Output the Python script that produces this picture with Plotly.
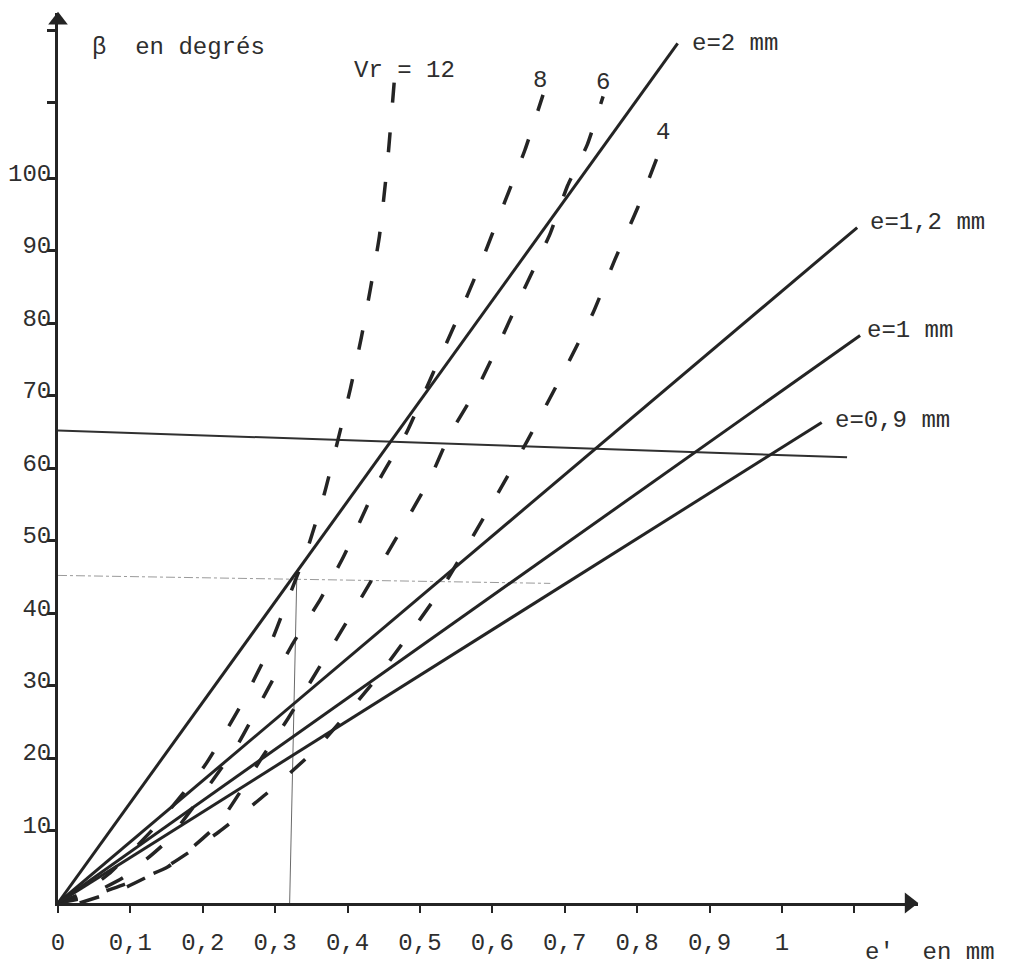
import plotly.graph_objects as go

# ---------------- data ----------------
# solid lines e = const, straight from the origin: end points (e' mm, beta deg)
e_labels = ["e=2 mm", "e=1,2 mm", "e=1 mm", "e=0,9 mm"]
e_end_x = [0.856, 1.104, 1.108, 1.055]
e_end_y = [118.6, 93.2, 78.3, 66.3]
e_label_x = [0.873, 1.119, 1.115, 1.070]
e_label_y = [118.6, 93.9, 79.0, 66.6]

# dashed curves, Vr = 12, 8, 6, 4
vr_labels = ["Vr = 12", "8", "6", "4"]
vr_label_x = [0.478, 0.666, 0.753, 0.836]
vr_label_y = [114.9, 113.5, 113.2, 106.3]

vr12_x = [0.0, 0.03, 0.07, 0.137, 0.203, 0.251, 0.286, 0.318, 0.345, 0.368, 0.387, 0.404, 0.419, 0.432, 0.444, 0.455, 0.465]
vr12_y = [0.0, 1.2, 4.0, 10.8, 19.0, 27.0, 33.9, 42.0, 49.0, 56.5, 64.0, 71.0, 78.0, 85.0, 92.0, 102.0, 114.0]

vr8_x = [0.0, 0.04, 0.09, 0.15, 0.21, 0.249, 0.287, 0.325, 0.363, 0.394, 0.417, 0.445, 0.482, 0.518, 0.552, 0.583, 0.617, 0.645, 0.670]
vr8_y = [0.0, 1.0, 3.5, 8.5, 16.4, 22.0, 29.0, 35.9, 42.0, 47.7, 52.6, 58.6, 65.0, 73.1, 80.7, 88.0, 96.7, 103.9, 111.5]

vr6_x = [0.0, 0.04, 0.09, 0.152, 0.222, 0.282, 0.318, 0.373, 0.420, 0.475, 0.514, 0.541, 0.580, 0.613, 0.642, 0.680, 0.704, 0.731, 0.753]
vr6_y = [0.0, 0.8, 2.5, 5.0, 11.0, 20.1, 25.5, 34.5, 42.3, 51.7, 58.6, 64.6, 71.2, 78.0, 84.3, 92.4, 99.0, 104.6, 111.3]

vr4_x = [0.03, 0.09, 0.15, 0.222, 0.287, 0.358, 0.44, 0.53, 0.608, 0.649, 0.696, 0.739, 0.769, 0.801, 0.832]
vr4_y = [0.0, 2.0, 5.0, 9.8, 15.0, 21.4, 31.0, 43.4, 56.6, 63.9, 72.8, 81.4, 88.7, 96.0, 104.0]

# construction lines
h65_x = [0.0, 1.09]
h65_y = [65.2, 61.5]
h45_x = [0.0, 0.68]
h45_y = [45.2, 44.1]
v032_x = [0.32, 0.33]
v032_y = [0.0, 45.5]

# axes ticks
x_tickvals = [0, 0.1, 0.2, 0.3, 0.4, 0.5, 0.6, 0.7, 0.8, 0.9, 1.0, 1.1]
x_ticktext = ["0", "0,1", "0,2", "0,3", "0,4", "0,5", "0,6", "0,7", "0,8", "0,9", "1", ""]
y_tickvals = [10, 20, 30, 40, 50, 60, 70, 80, 90, 100, 110.5, 120.4]
y_ticktext = ["10", "20", "30", "40", "50", "60", "70", "80", "90", "100", "", ""]

X_RANGE = [0, 1.188]
Y_RANGE = [0, 122.8]

INK = "#242424"
TEXT = "#2e2e2e"
FONT = "Liberation Mono, Courier New, monospace"

fig = go.Figure()

# construction lines
fig.add_trace(go.Scatter(x=h65_x, y=h65_y, mode="lines",
                         line=dict(color="#303030", width=2), hoverinfo="skip"))
fig.add_trace(go.Scatter(x=h45_x, y=h45_y, mode="lines",
                         line=dict(color="#9a9a9a", width=1, dash="dashdot"), hoverinfo="skip"))
fig.add_trace(go.Scatter(x=v032_x, y=v032_y, mode="lines",
                         line=dict(color="#6a6a6a", width=1), hoverinfo="skip"))

# dashed Vr curves
for xs, ys in [(vr12_x, vr12_y), (vr8_x, vr8_y), (vr6_x, vr6_y), (vr4_x, vr4_y)]:
    fig.add_trace(go.Scatter(x=xs, y=ys, mode="lines",
                             line=dict(color=INK, width=3.5, dash="20px,30px",
                                       shape="spline", smoothing=0.5),
                             hoverinfo="skip"))

# solid e lines
for ex, ey in zip(e_end_x, e_end_y):
    fig.add_trace(go.Scatter(x=[0, ex], y=[0, ey], mode="lines",
                             line=dict(color=INK, width=3), hoverinfo="skip"))

# axis arrow heads
fig.add_trace(go.Scatter(x=[X_RANGE[0]], y=[Y_RANGE[1] - 1.0], mode="markers",
                         marker=dict(symbol="triangle-up", size=17, color=INK),
                         cliponaxis=False, hoverinfo="skip"))
fig.add_trace(go.Scatter(x=[X_RANGE[1] - 0.012], y=[Y_RANGE[0]], mode="markers",
                         marker=dict(symbol="triangle-right", size=18, color=INK),
                         cliponaxis=False, hoverinfo="skip"))

annotations = []
for t, x, y in zip(e_labels, e_label_x, e_label_y):
    annotations.append(dict(x=x, y=y, xref="x", yref="y", text=t, showarrow=False,
                            xanchor="left", yanchor="middle",
                            font=dict(family=FONT, size=24, color=TEXT)))
for t, x, y in zip(vr_labels, vr_label_x, vr_label_y):
    annotations.append(dict(x=x, y=y, xref="x", yref="y", text=t, showarrow=False,
                            xanchor="center", yanchor="middle",
                            font=dict(family=FONT, size=24, color=TEXT)))
annotations.append(dict(x=0.044, y=118.0, xref="x", yref="y", text="β  en degrés",
                        showarrow=False, xanchor="left", yanchor="middle",
                        font=dict(family=FONT, size=24, color=TEXT)))
annotations.append(dict(x=1.112, y=-0.056, xref="x", yref="paper", text="e'  en mm",
                        showarrow=False, xanchor="left", yanchor="middle",
                        font=dict(family=FONT, size=24, color=TEXT)))

# the page body adds an 8px offset, so the figure is 8px smaller than the window
fig.update_layout(
    width=1010, height=963,
    margin=dict(l=50, r=100, t=5, b=68, autoexpand=False),
    paper_bgcolor="white", plot_bgcolor="white",
    showlegend=False,
    annotations=annotations,
    xaxis=dict(range=X_RANGE, showgrid=False, zeroline=False, automargin=False,
               showline=True, linecolor=INK, linewidth=3,
               ticks="outside", ticklen=7, tickwidth=2, tickcolor=INK,
               tickvals=x_tickvals, ticktext=x_ticktext,
               ticklabelstandoff=8,
               tickfont=dict(family=FONT, size=24, color=TEXT)),
    yaxis=dict(range=Y_RANGE, showgrid=False, zeroline=False, automargin=False,
               showline=True, linecolor=INK, linewidth=3,
               ticks="outside", ticklen=8, tickwidth=3, tickcolor=INK,
               tickvals=y_tickvals, ticktext=y_ticktext,
               ticklabelstandoff=-9, ticklabelshift=-6,
               tickfont=dict(family=FONT, size=24, color=TEXT)),
)

fig.write_html("out.html")
